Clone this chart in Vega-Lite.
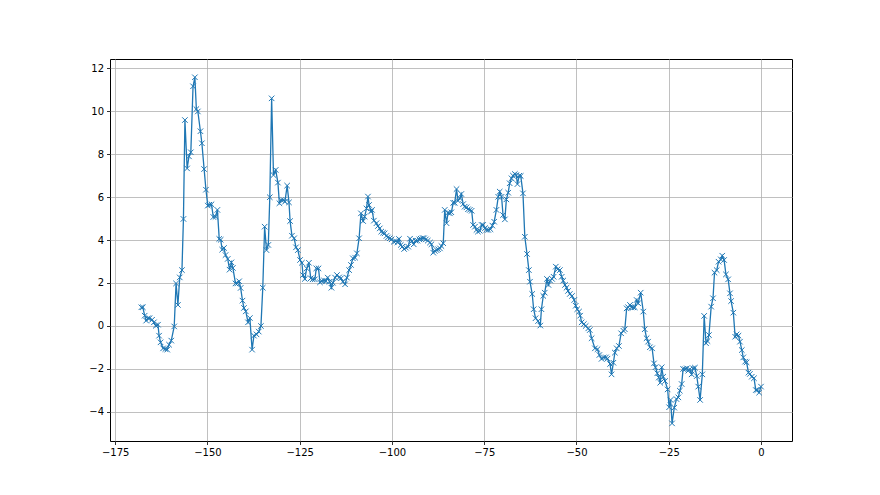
{
  "$schema": "https://vega.github.io/schema/vega-lite/v6.json",
  "width": 682,
  "height": 382,
  "autosize": {"type": "none"},
  "padding": {"left": 110, "top": 59, "right": 88, "bottom": 54},
  "background": "white",
  "config": {
    "view": {"stroke": "#000000", "strokeWidth": 1},
    "axis": {
      "grid": true,
      "gridColor": "#b0b0b0",
      "gridWidth": 0.8,
      "domain": false,
      "tickColor": "#000000",
      "tickSize": 3.5,
      "tickWidth": 0.8,
      "labelFont": "DejaVu Sans",
      "labelFontSize": 10,
      "labelColor": "#000000",
      "labelPadding": 3,
      "title": null
    }
  },
  "data": {"values": [
    {"x":-167.9,"y":0.87},{"x":-167.5,"y":0.87},{"x":-167.0,"y":0.48},{"x":-166.6,"y":0.25},{"x":-166.1,"y":0.36},{"x":-165.7,"y":0.36},{"x":-165.0,"y":0.29},{"x":-164.5,"y":0.17},{"x":-164.0,"y":0.01},{"x":-163.4,"y":0.06},{"x":-163.1,"y":-0.45},{"x":-162.7,"y":-0.76},{"x":-162.0,"y":-1.04},{"x":-161.4,"y":-1.07},{"x":-160.9,"y":-1.10},{"x":-160.4,"y":-0.87},{"x":-159.8,"y":-0.68},{"x":-159.0,"y":-0.02},{"x":-158.5,"y":1.98},{"x":-158.0,"y":0.98},{"x":-157.5,"y":2.26},{"x":-156.9,"y":2.60},{"x":-156.5,"y":4.98},{"x":-156.1,"y":9.58},{"x":-155.5,"y":7.33},{"x":-155.0,"y":7.89},{"x":-154.5,"y":8.08},{"x":-153.9,"y":11.15},{"x":-153.4,"y":11.57},{"x":-153.0,"y":10.09},{"x":-152.6,"y":9.98},{"x":-151.9,"y":9.06},{"x":-151.5,"y":8.50},{"x":-150.9,"y":7.30},{"x":-150.4,"y":6.34},{"x":-149.9,"y":5.60},{"x":-149.5,"y":5.64},{"x":-148.9,"y":5.66},{"x":-148.4,"y":5.07},{"x":-147.8,"y":5.08},{"x":-147.3,"y":5.40},{"x":-146.8,"y":4.05},{"x":-146.4,"y":4.01},{"x":-146.0,"y":3.55},{"x":-145.5,"y":3.63},{"x":-145.1,"y":3.30},{"x":-144.5,"y":3.12},{"x":-144.0,"y":2.62},{"x":-143.5,"y":2.96},{"x":-143.1,"y":2.70},{"x":-142.4,"y":1.98},{"x":-141.9,"y":1.98},{"x":-141.4,"y":2.08},{"x":-141.0,"y":1.77},{"x":-140.5,"y":1.18},{"x":-140.1,"y":0.84},{"x":-139.6,"y":0.68},{"x":-139.0,"y":0.17},{"x":-138.5,"y":0.37},{"x":-137.9,"y":-1.10},{"x":-137.4,"y":-0.45},
    {"x":-136.7,"y":-0.39},{"x":-136.1,"y":-0.26},{"x":-135.5,"y":0.0},{"x":-135.0,"y":1.78},{"x":-134.5,"y":4.62},{"x":-134.0,"y":3.53},{"x":-133.5,"y":3.77},{"x":-133.1,"y":5.99},{"x":-132.6,"y":10.59},{"x":-132.1,"y":7.02},{"x":-131.5,"y":7.26},{"x":-130.9,"y":6.67},{"x":-130.5,"y":5.71},{"x":-130.0,"y":5.86},{"x":-129.4,"y":5.86},{"x":-129.0,"y":5.78},{"x":-128.4,"y":6.53},{"x":-127.9,"y":5.75},{"x":-127.6,"y":4.88},{"x":-127.1,"y":4.20},{"x":-126.5,"y":4.08},{"x":-126.0,"y":3.66},{"x":-125.5,"y":3.53},{"x":-124.9,"y":3.07},{"x":-124.4,"y":2.94},{"x":-124.1,"y":2.37},{"x":-123.6,"y":2.19},{"x":-123.1,"y":2.68},{"x":-122.5,"y":2.94},{"x":-122.0,"y":2.22},{"x":-121.5,"y":2.17},{"x":-120.9,"y":2.17},{"x":-120.5,"y":2.68},{"x":-119.9,"y":2.68},{"x":-119.5,"y":2.03},{"x":-119.0,"y":2.09},{"x":-118.4,"y":2.11},{"x":-117.9,"y":2.09},{"x":-117.4,"y":2.25},{"x":-116.9,"y":2.06},{"x":-116.4,"y":1.78},{"x":-116.0,"y":2.01},{"x":-115.4,"y":2.25},{"x":-114.9,"y":2.37},{"x":-114.3,"y":2.26},{"x":-113.8,"y":2.22},{"x":-113.3,"y":2.06},{"x":-112.7,"y":1.94},{"x":-112.2,"y":2.25},{"x":-111.6,"y":2.60},{"x":-111.1,"y":2.84},{"x":-110.6,"y":3.15},{"x":-110.0,"y":3.18},{"x":-109.5,"y":3.38},{"x":-108.9,"y":4.08},{"x":-108.4,"y":5.24},{"x":-107.8,"y":4.88},{"x":-107.4,"y":5.09},{"x":-106.9,"y":5.47},{"x":-106.5,"y":6.02},{"x":-106.2,"y":5.63},
    {"x":-105.7,"y":5.32},{"x":-105.4,"y":5.40},{"x":-104.9,"y":4.90},{"x":-104.2,"y":4.78},{"x":-103.8,"y":4.65},{"x":-103.3,"y":4.54},{"x":-102.9,"y":4.39},{"x":-102.4,"y":4.34},{"x":-102.0,"y":4.31},{"x":-101.5,"y":4.19},{"x":-101.1,"y":4.12},{"x":-100.6,"y":4.08},{"x":-100.1,"y":4.03},{"x":-99.5,"y":3.92},{"x":-99.0,"y":3.95},{"x":-98.5,"y":3.89},{"x":-98.1,"y":4.05},{"x":-97.6,"y":3.77},{"x":-97.2,"y":3.69},{"x":-96.7,"y":3.58},{"x":-96.2,"y":3.64},{"x":-95.6,"y":3.69},{"x":-95.1,"y":4.06},{"x":-94.6,"y":3.95},{"x":-94.1,"y":3.80},{"x":-93.6,"y":3.97},{"x":-93.1,"y":3.97},{"x":-92.6,"y":4.03},{"x":-92.2,"y":4.06},{"x":-91.7,"y":4.09},{"x":-91.3,"y":4.08},{"x":-90.8,"y":4.03},{"x":-90.3,"y":3.97},{"x":-89.7,"y":3.88},{"x":-89.3,"y":3.80},{"x":-88.8,"y":3.41},{"x":-88.4,"y":3.49},{"x":-87.9,"y":3.53},{"x":-87.5,"y":3.57},{"x":-87.0,"y":3.61},{"x":-86.6,"y":3.72},{"x":-86.1,"y":3.85},{"x":-85.7,"y":5.40},{"x":-85.2,"y":4.78},{"x":-84.8,"y":5.27},{"x":-84.3,"y":5.24},{"x":-83.9,"y":5.29},{"x":-83.4,"y":5.73},{"x":-83.0,"y":5.73},{"x":-82.5,"y":6.37},{"x":-82.1,"y":5.83},{"x":-81.6,"y":5.94},{"x":-81.2,"y":6.14},{"x":-80.7,"y":5.67},{"x":-80.3,"y":5.55},{"x":-79.8,"y":5.52},{"x":-79.4,"y":5.43},{"x":-78.9,"y":5.40},{"x":-78.4,"y":5.36},{"x":-78.0,"y":4.70},{"x":-77.5,"y":4.62},{"x":-77.1,"y":4.47},{"x":-76.7,"y":4.39},{"x":-76.2,"y":4.43},{"x":-75.7,"y":4.70},{"x":-75.3,"y":4.70},{"x":-74.8,"y":4.55},{"x":-74.4,"y":4.47},{"x":-73.9,"y":4.47},
    {"x":-73.3,"y":4.50},{"x":-72.8,"y":4.67},{"x":-72.3,"y":4.85},{"x":-71.7,"y":5.40},{"x":-71.2,"y":6.01},{"x":-70.8,"y":6.25},{"x":-70.3,"y":6.01},{"x":-69.9,"y":5.16},{"x":-69.4,"y":4.96},{"x":-69.0,"y":5.89},{"x":-68.5,"y":6.20},{"x":-68.1,"y":6.64},{"x":-67.6,"y":6.87},{"x":-67.2,"y":6.99},{"x":-66.7,"y":7.07},{"x":-66.3,"y":7.02},{"x":-66.0,"y":6.60},{"x":-65.5,"y":6.99},{"x":-65.1,"y":6.98},{"x":-64.5,"y":6.17},{"x":-64.0,"y":4.15},{"x":-63.4,"y":3.35},{"x":-62.9,"y":2.60},{"x":-62.6,"y":2.06},{"x":-62.0,"y":1.49},{"x":-61.6,"y":0.78},{"x":-61.1,"y":0.36},{"x":-60.4,"y":0.23},{"x":-59.8,"y":0.02},{"x":-59.5,"y":0.78},{"x":-59.0,"y":1.40},{"x":-58.6,"y":1.55},{"x":-58.0,"y":2.19},{"x":-57.6,"y":1.91},{"x":-57.1,"y":2.11},{"x":-56.6,"y":2.19},{"x":-56.2,"y":2.29},{"x":-55.6,"y":2.76},{"x":-55.1,"y":2.64},{"x":-54.5,"y":2.60},{"x":-54.0,"y":2.29},{"x":-53.6,"y":2.11},{"x":-53.1,"y":1.91},{"x":-52.7,"y":1.78},{"x":-52.3,"y":1.63},{"x":-51.8,"y":1.49},{"x":-51.2,"y":1.40},{"x":-50.6,"y":1.21},{"x":-50.2,"y":0.94},{"x":-49.8,"y":0.78},{"x":-49.3,"y":0.67},{"x":-49.0,"y":0.48},{"x":-48.6,"y":0.17},{"x":-48.0,"y":0.09},{"x":-47.5,"y":0.0},{"x":-46.8,"y":-0.11},{"x":-46.4,"y":-0.19},{"x":-45.9,"y":-0.57},
    {"x":-45.0,"y":-1.04},{"x":-44.3,"y":-1.08},{"x":-43.8,"y":-1.35},{"x":-43.2,"y":-1.53},{"x":-42.6,"y":-1.46},{"x":-42.0,"y":-1.46},{"x":-41.6,"y":-1.52},{"x":-40.9,"y":-1.77},{"x":-40.5,"y":-2.25},{"x":-40.0,"y":-1.71},{"x":-39.6,"y":-1.24},{"x":-39.1,"y":-1.04},{"x":-38.5,"y":-0.93},{"x":-37.9,"y":-0.34},{"x":-37.3,"y":-0.22},{"x":-36.9,"y":-0.15},{"x":-36.4,"y":0.82},{"x":-36.0,"y":0.87},{"x":-35.5,"y":0.98},{"x":-35.1,"y":0.87},{"x":-34.6,"y":0.87},{"x":-34.2,"y":0.87},{"x":-33.7,"y":1.21},{"x":-33.3,"y":1.06},{"x":-32.6,"y":1.55},{"x":-31.9,"y":0.67},{"x":-31.5,"y":-0.15},{"x":-31.0,"y":-0.57},{"x":-30.6,"y":-0.73},{"x":-30.1,"y":-0.99},{"x":-29.5,"y":-1.04},{"x":-29.0,"y":-1.74},{"x":-28.6,"y":-1.92},{"x":-28.1,"y":-2.20},{"x":-27.7,"y":-2.40},{"x":-27.3,"y":-2.64},{"x":-26.9,"y":-1.92},{"x":-26.5,"y":-2.36},{"x":-26.0,"y":-2.56},{"x":-25.3,"y":-2.95},{"x":-24.9,"y":-3.78},{"x":-24.5,"y":-3.44},{"x":-24.1,"y":-4.53},{"x":-23.5,"y":-3.80},{"x":-22.9,"y":-3.40},{"x":-22.4,"y":-3.32},{"x":-22.0,"y":-3.01},{"x":-21.5,"y":-2.70},{"x":-21.1,"y":-2.00},{"x":-20.6,"y":-2.01},{"x":-20.1,"y":-1.97},{"x":-19.7,"y":-2.08},{"x":-19.3,"y":-2.01},{"x":-18.8,"y":-2.25},{"x":-18.4,"y":-1.97},{"x":-17.9,"y":-1.94},{"x":-17.4,"y":-2.33},{"x":-17.0,"y":-2.82},{"x":-16.5,"y":-3.44},{"x":-15.9,"y":-2.25},{"x":-15.4,"y":0.47},{"x":-14.9,"y":-0.80},{"x":-14.5,"y":-0.70},{"x":-14.1,"y":-0.42},{"x":-13.5,"y":0.90},{"x":-13.0,"y":1.29},{"x":-12.6,"y":2.48},{"x":-12.0,"y":2.60},{"x":-11.5,"y":2.99},{"x":-10.9,"y":3.10},{"x":-10.5,"y":3.27},{"x":-10.0,"y":3.07},{"x":-9.5,"y":2.40},{"x":-8.9,"y":2.17},{"x":-8.4,"y":1.52},{"x":-8.1,"y":1.16},{"x":-7.5,"y":0.62},{"x":-7.0,"y":-0.50},{"x":-6.6,"y":-0.39},{"x":-6.1,"y":-0.45},{"x":-5.7,"y":-0.73},{"x":-5.2,"y":-1.12},{"x":-4.8,"y":-1.46},{"x":-4.3,"y":-1.66},{"x":-3.9,"y":-1.69},{"x":-3.4,"y":-2.17},{"x":-3.0,"y":-2.23},{"x":-2.5,"y":-2.36},{"x":-1.9,"y":-2.43},{"x":-1.4,"y":-2.98},{"x":-1.0,"y":-2.98},{"x":-0.5,"y":-3.10},{"x":0.0,"y":-2.82}
  ]},
  "encoding": {
    "x": {"field": "x", "type": "quantitative", "scale": {"domain": [-176.4, 8.4], "nice": false, "zero": false}, "axis": {"values": [-175, -150, -125, -100, -75, -50, -25, 0]}},
    "y": {"field": "y", "type": "quantitative", "scale": {"domain": [-5.35, 12.42], "nice": false, "zero": false}, "axis": {"values": [-4, -2, 0, 2, 4, 6, 8, 10, 12]}}
  },
  "layer": [
    {"mark": {"type": "line", "color": "#1f77b4", "strokeWidth": 1.3, "clip": true}},
    {"mark": {"type": "point", "shape": "M-1,-1L1,1M-1,1L1,-1", "filled": false, "color": "#1f77b4", "strokeWidth": 1, "size": 30, "opacity": 1, "clip": true}}
  ]
}
